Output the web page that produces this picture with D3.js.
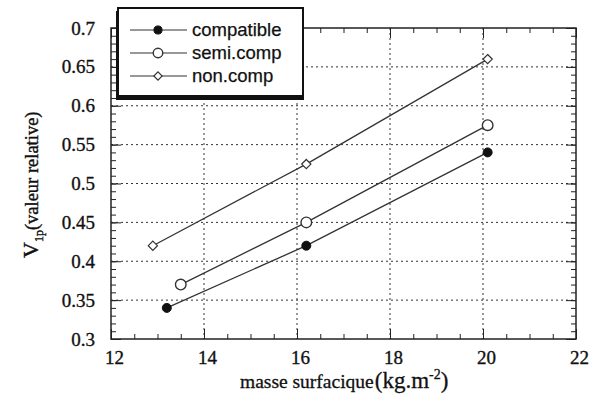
<!DOCTYPE html>
<html><head><meta charset="utf-8">
<script src="https://cdn.jsdelivr.net/npm/d3@7"></script>
<style>body{margin:0;background:#fff}</style>
</head><body>
<script>
const seriesNames = ["compatible", "semi.comp", "non.comp"];
const xCompatible = [13.2, 16.2, 20.1];
const yCompatible = [0.34, 0.42, 0.54];
const xSemi = [13.5, 16.2, 20.1];
const ySemi = [0.37, 0.45, 0.575];
const xNon = [12.9, 16.2, 20.1];
const yNon = [0.42, 0.525, 0.66];
const xTicks = [12, 14, 16, 18, 20, 22];
const yTicks = [0.3, 0.35, 0.4, 0.45, 0.5, 0.55, 0.6, 0.65, 0.7];

const W = 590, H = 401;
const svg = d3.select("body").append("svg").attr("width", W).attr("height", H);
const L = 111, R = 576, T = 28, B = 339;
const x = d3.scaleLinear().domain([12, 22]).range([L, R]);
const y = d3.scaleLinear().domain([0.3, 0.7]).range([B, T]);

// grid
const grid = svg.append("g").attr("stroke", "#333").attr("stroke-width", 1).attr("stroke-dasharray", "2,3");
xTicks.slice(1, -1).forEach(v => grid.append("line").attr("x1", x(v)).attr("x2", x(v)).attr("y1", T).attr("y2", B));
yTicks.slice(1, -1).forEach(v => grid.append("line").attr("x1", L).attr("x2", R).attr("y1", y(v)).attr("y2", y(v)));

// axes with inward ticks
const minorX = d3.range(12, 22.001, 0.5);
const minorY = d3.range(0.3, 0.7001, 0.01);
function axisGroup(axis, tr) {
  const g = svg.append("g").attr("transform", tr).call(axis);
  g.select(".domain").remove();
  g.selectAll("line").attr("stroke", "#222").attr("stroke-width", 1);
  return g;
}
axisGroup(d3.axisBottom(x).tickValues(minorX).tickSize(-5).tickFormat(""), `translate(0,${B})`);
axisGroup(d3.axisTop(x).tickValues(minorX).tickSize(-5).tickFormat(""), `translate(0,${T})`);
axisGroup(d3.axisLeft(y).tickValues(minorY).tickSize(-5).tickFormat(""), `translate(${L},0)`);
axisGroup(d3.axisRight(y).tickValues(minorY).tickSize(-5).tickFormat(""), `translate(${R},0)`);
const xb = axisGroup(d3.axisBottom(x).tickValues(xTicks).tickSize(-10).tickPadding(16).tickFormat(d3.format("d")), `translate(0,${B})`);
axisGroup(d3.axisTop(x).tickValues(xTicks).tickSize(-10).tickFormat(""), `translate(0,${T})`);
const yl = axisGroup(d3.axisLeft(y).tickValues(yTicks).tickSize(-10).tickPadding(16).tickFormat(d => d3.format("")(+d.toFixed(2))), `translate(${L},0)`);
axisGroup(d3.axisRight(y).tickValues(yTicks).tickSize(-10).tickFormat(""), `translate(${R},0)`);
[xb, yl].forEach(g => g.selectAll("text").attr("font-family", "Liberation Serif").attr("font-size", 19)
  .attr("fill", "#111").attr("stroke", "#111").attr("stroke-width", 0.35));
xb.selectAll("text").attr("dy", null).attr("y", 25).attr("x", 3);
yl.selectAll("text").attr("x", -16);

// frame
svg.append("rect").attr("x", L).attr("y", T).attr("width", R - L).attr("height", B - T)
  .attr("fill", "none").attr("stroke", "#222").attr("stroke-width", 1.5);

// series
const series = [
  {name: seriesNames[0], xs: xCompatible, ys: yCompatible, type: "filled"},
  {name: seriesNames[1], xs: xSemi, ys: ySemi, type: "open"},
  {name: seriesNames[2], xs: xNon, ys: yNon, type: "diamond"}
];
const line = d3.line().x(d => x(d[0])).y(d => y(d[1]));
function marker(g, type, cx, cy, scale) {
  if (type === "filled") g.append("circle").attr("cx", cx).attr("cy", cy).attr("r", 4.5 * scale).attr("fill", "#111").attr("stroke", "#111");
  else if (type === "open") g.append("circle").attr("cx", cx).attr("cy", cy).attr("r", 5.3 * scale).attr("fill", "#fff").attr("stroke", "#333").attr("stroke-width", 1.4);
  else g.append("path").attr("d", `M${cx},${cy - 4.6 * scale}L${cx + 4.6 * scale},${cy}L${cx},${cy + 4.6 * scale}L${cx - 4.6 * scale},${cy}Z`).attr("fill", "#fff").attr("stroke", "#333").attr("stroke-width", 1.2);
}
series.forEach(s => {
  const pts = s.xs.map((v, i) => [v, s.ys[i]]);
  svg.append("path").attr("d", line(pts)).attr("fill", "none").attr("stroke", "#333").attr("stroke-width", 1.3);
  const g = svg.append("g");
  pts.forEach(p => marker(g, s.type, x(p[0]), y(p[1]), 1));
});

// legend
const lx = 117, ly = 8, lw = 186, lh = 89;
svg.append("rect").attr("x", lx - 1).attr("y", ly + 3).attr("width", lw + 2).attr("height", lh).attr("fill", "#111");
svg.append("rect").attr("x", lx + 1).attr("y", ly).attr("width", lw - 1).attr("height", lh - 1).attr("fill", "#fff").attr("stroke", "#111").attr("stroke-width", 2);
series.forEach((s, i) => {
  const cy = 30 + i * 23;
  svg.append("line").attr("x1", 130).attr("x2", 187).attr("y1", cy).attr("y2", cy).attr("stroke", "#333").attr("stroke-width", 1.2);
  marker(svg, s.type, 158, cy, 0.9);
  svg.append("text").attr("x", 192).attr("y", cy).attr("dy", "0.35em")
    .attr("font-family", "Liberation Sans").attr("font-size", 18.5).attr("fill", "#111")
    .attr("stroke", "#111").attr("stroke-width", 0.25).text(s.name);
});

// x title
const xt = svg.append("text").attr("x", 240).attr("y", 388).attr("font-family", "Liberation Serif").attr("fill", "#111")
  .attr("stroke", "#111").attr("stroke-width", 0.3);
xt.append("tspan").attr("font-size", 19.5).text("masse surfacique");
xt.append("tspan").attr("font-size", 23).attr("dx", 1).text("(kg.m");
xt.append("tspan").attr("font-size", 14).attr("dy", -9).text("-2");
xt.append("tspan").attr("font-size", 23).attr("dy", 9).text(")");

// y title
const yt = svg.append("text").attr("transform", "translate(38,258) rotate(-90)").attr("font-family", "Liberation Serif")
  .attr("fill", "#111").attr("stroke", "#111").attr("stroke-width", 0.4);
yt.append("tspan").attr("font-size", 22).text("V");
yt.append("tspan").attr("font-size", 12).attr("dy", 5).text("1p");
yt.append("tspan").attr("font-size", 18.5).attr("dy", -5).text("(valeur relative)");
</script>
</body></html>
